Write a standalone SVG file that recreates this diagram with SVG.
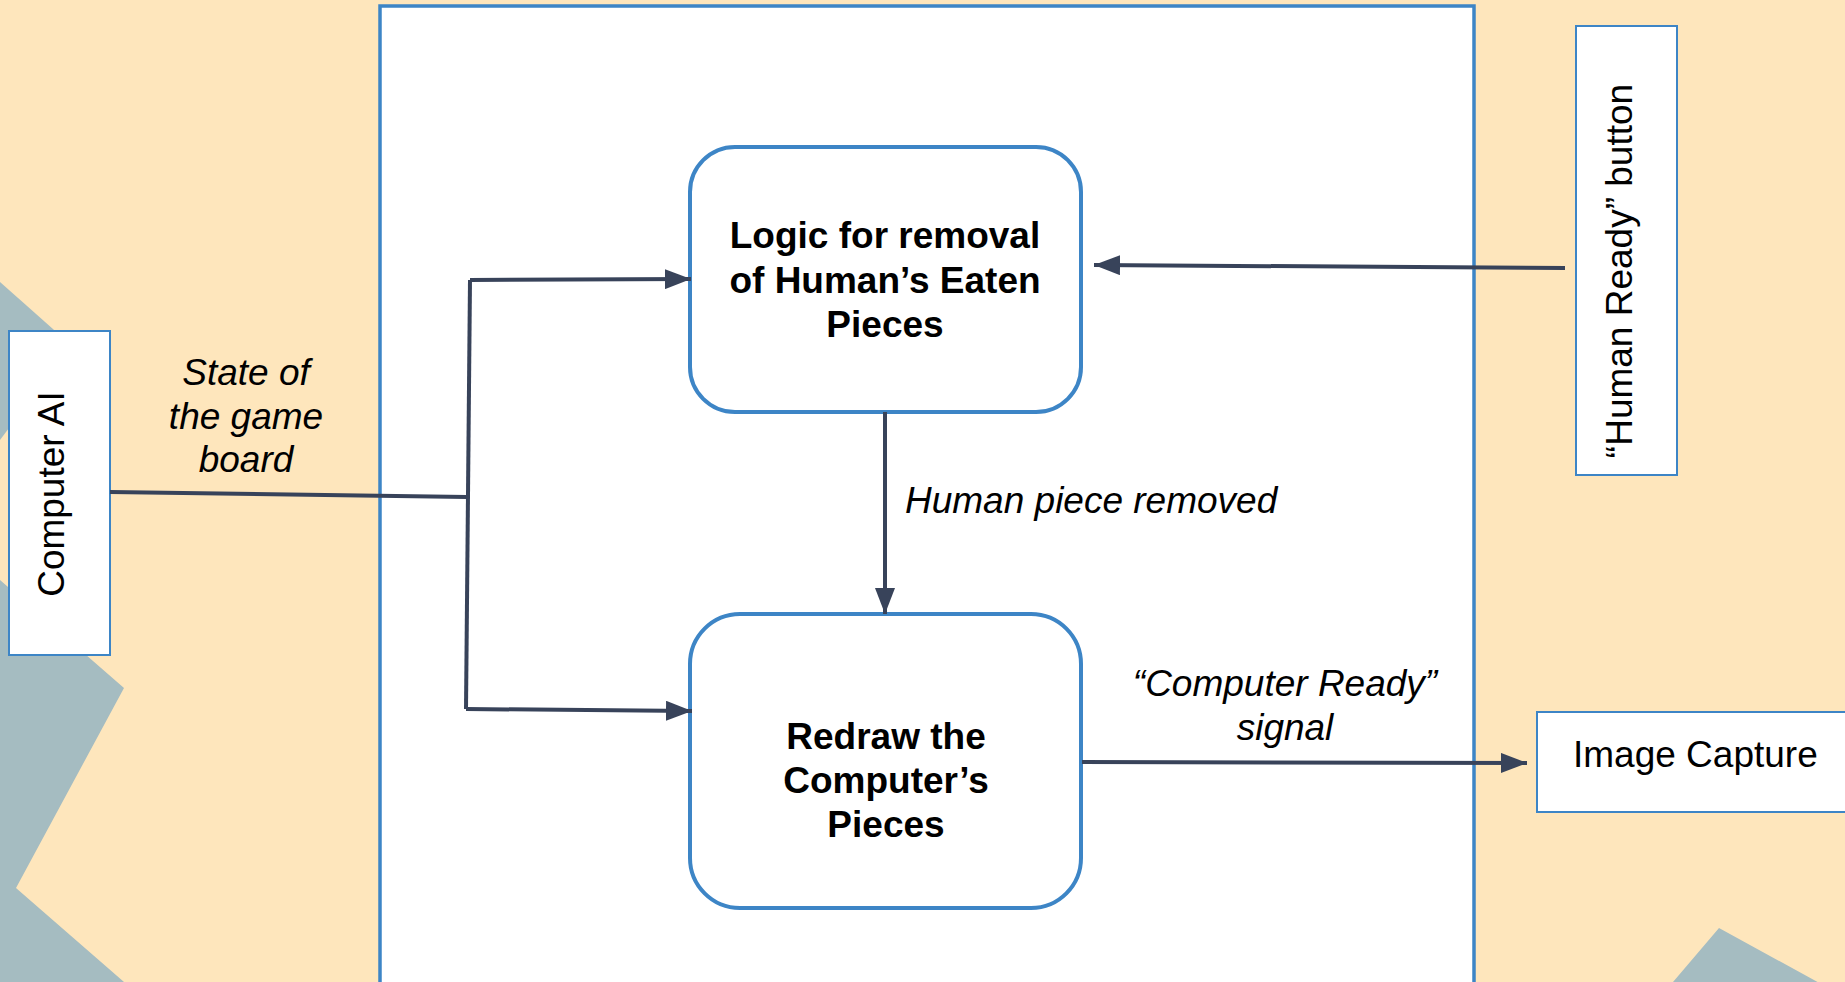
<svg xmlns="http://www.w3.org/2000/svg" width="1845" height="982" viewBox="0 0 1845 982">
<defs>
<style>
.bg{fill:#fee6bc}
.deco{fill:#a5bcc1}
.frame{fill:#ffffff;stroke:#3d85c6;stroke-width:3.5}
.ext{fill:#ffffff;stroke:#3d85c6;stroke-width:2}
.proc{fill:#ffffff;stroke:#3d85c6;stroke-width:4}
.conn{fill:none;stroke:#38435a;stroke-width:4}
.t{font-family:"Liberation Sans",Arial,sans-serif;font-size:37px;fill:#000000}
.b{font-weight:bold;text-anchor:middle}
.i{font-style:italic}
.m{text-anchor:middle}
</style>
<marker id="arr" markerUnits="userSpaceOnUse" markerWidth="26" markerHeight="20" refX="26" refY="10" orient="auto">
<path d="M0,0 L26,10 L0,20 z" fill="#38435a"/>
</marker>
</defs>
<rect class="bg" x="0" y="0" width="1845" height="982"/>
<polygon class="deco" points="0,282 71,345 0,440"/>
<polygon class="deco" points="0,580 124,688 16,888 124,982 0,982"/>
<polygon class="deco" points="1719,928 1845,997 1845,982 1673,982"/>
<rect class="frame" x="380" y="6" width="1094" height="990"/>

<g id="computer-ai">
<rect class="ext" x="9" y="331" width="101" height="324"/>
<text class="t m" transform="translate(64,494) rotate(-90)">Computer AI</text>
</g>
<g id="human-ready">
<rect class="ext" x="1576" y="26" width="101" height="449"/>
<text class="t m" transform="translate(1632,271) rotate(-90)">“Human Ready” button</text>
</g>
<g id="image-capture">
<rect class="ext" x="1537" y="712" width="320" height="100"/>
<text class="t" x="1573" y="767">Image Capture</text>
</g>
<g id="logic">
<rect class="proc" x="690" y="147" width="391" height="265" rx="45" ry="45"/>
<text class="t b" x="885" y="248">Logic for removal</text>
<text class="t b" x="885" y="293">of Human’s Eaten</text>
<text class="t b" x="885" y="337">Pieces</text>
</g>
<g id="redraw">
<rect class="proc" x="690" y="614" width="391" height="294" rx="50" ry="50"/>
<text class="t b" x="886" y="749">Redraw the</text>
<text class="t b" x="886" y="793">Computer’s</text>
<text class="t b" x="886" y="837">Pieces</text>
</g>

<g id="connectors">
<path class="conn" d="M110,492 L467,497"/>
<path class="conn" d="M470,280 L466,709"/>
<path class="conn" d="M470,280 L691,279" marker-end="url(#arr)"/>
<path class="conn" d="M466,709 L692,711" marker-end="url(#arr)"/>
<path class="conn" d="M885,412 L885,614" marker-end="url(#arr)"/>
<path class="conn" d="M1565,268 L1094,265" marker-end="url(#arr)"/>
<path class="conn" d="M1082,762 L1527,763" marker-end="url(#arr)"/>
<text class="t i m" x="246" y="385">State of</text>
<text class="t i m" x="246" y="429">the game</text>
<text class="t i m" x="246" y="472">board</text>
<text class="t i" x="905" y="513">Human piece removed</text>
<text class="t i m" x="1285" y="696">“Computer Ready”</text>
<text class="t i m" x="1285" y="740">signal</text>
</g>
</svg>
